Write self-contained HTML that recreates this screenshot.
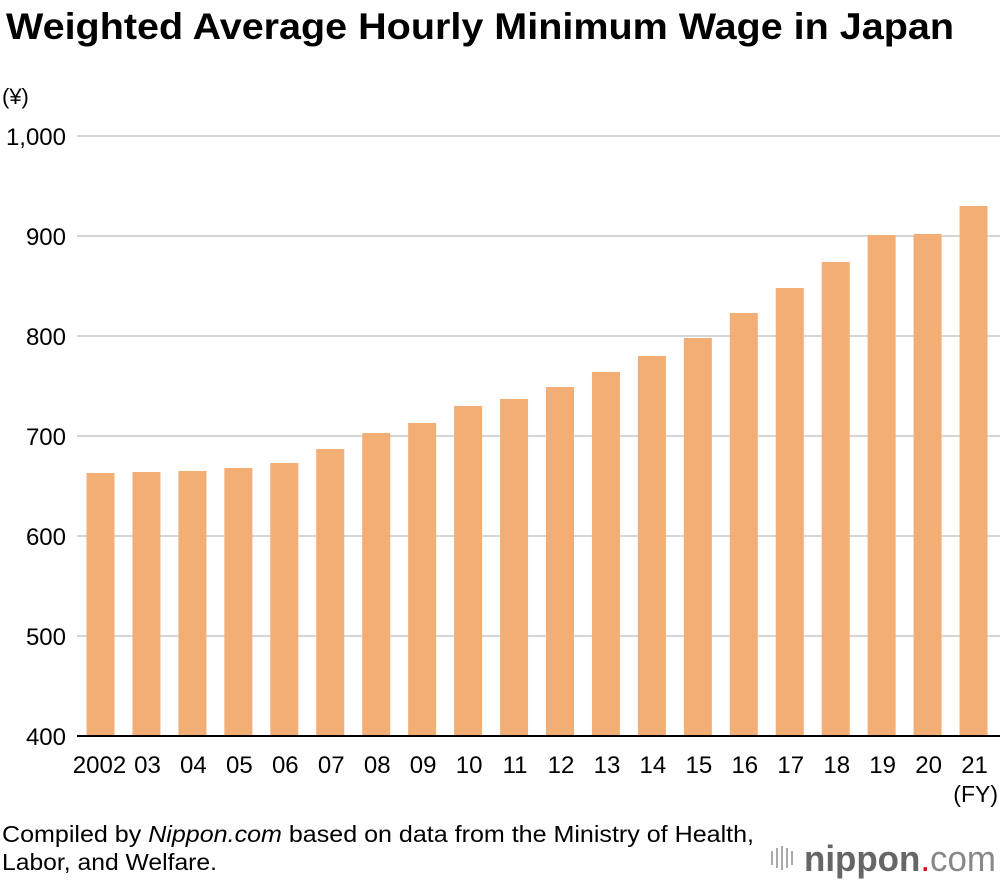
<!DOCTYPE html>
<html><head><meta charset="utf-8"><style>
body{margin:0;width:1000px;height:880px;background:#fff;overflow:hidden;font-family:"Liberation Sans",sans-serif;}
</style></head><body>
<svg width="1000" height="880" xmlns="http://www.w3.org/2000/svg" font-family="Liberation Sans, sans-serif">
<text x="6" y="39" font-size="37" font-weight="bold" fill="#000" textLength="948" lengthAdjust="spacingAndGlyphs">Weighted Average Hourly Minimum Wage in Japan</text>
<text x="2" y="104" font-size="22" fill="#000">(¥)</text>
<g id="grid"></g>
<g id="bars"></g>
<g id="xlabels"></g>
<line x1="77" x2="1000" y1="736" y2="736" stroke="#000" stroke-width="2"/>
<text x="998" y="802" font-size="23" text-anchor="end">(FY)</text>
<text x="2" y="842" font-size="23" textLength="752" lengthAdjust="spacingAndGlyphs">Compiled by <tspan font-style="italic">Nippon.com</tspan> based on data from the Ministry of Health,</text>
<text x="2" y="870" font-size="23" textLength="215" lengthAdjust="spacingAndGlyphs">Labor, and Welfare.</text>
<g>
<g fill="#aaa"><rect x="771" y="851" width="2" height="14"/><rect x="776" y="848" width="2" height="20"/><rect x="781" y="846" width="2" height="24"/><rect x="786" y="848" width="2" height="20"/><rect x="791" y="851" width="2" height="14"/></g>
<text x="804" y="871" font-size="36" fill="#666" textLength="192" lengthAdjust="spacingAndGlyphs"><tspan font-weight="bold">nippon</tspan><tspan fill="#e60012">.</tspan><tspan fill="#888">com</tspan></text>
</g>
</svg>
<script>
const years=["2002","03","04","05","06","07","08","09","10","11","12","13","14","15","16","17","18","19","20","21"];
const wages=[663,664,665,668,673,687,703,713,730,737,749,764,780,798,823,848,874,901,902,930];
const yTicks=[400,500,600,700,800,900,1000];
const yTickLabels=["400","500","600","700","800","900","1,000"];
const NS="http://www.w3.org/2000/svg";
function y(v){return 736-(v-400)*1.0;}
function xc(i){return 100.5+i*45.95;}
const grid=document.getElementById('grid'),bars=document.getElementById('bars'),xl=document.getElementById('xlabels');
yTicks.forEach((t,k)=>{
 if(t>400){const l=document.createElementNS(NS,'line');
 l.setAttribute('x1',77);l.setAttribute('x2',1000);l.setAttribute('y1',y(t));l.setAttribute('y2',y(t));
 l.setAttribute('stroke','#c8c8c8');l.setAttribute('stroke-width','1.5');
 
 
 grid.appendChild(l);}
 const tx=document.createElementNS(NS,'text');
 tx.setAttribute('x',66);tx.setAttribute('y',y(t)+9);tx.setAttribute('text-anchor','end');tx.setAttribute('font-size','24');
 tx.textContent=yTickLabels[k];
 
 
 grid.appendChild(tx);
});
wages.forEach((v,i)=>{
 const r=document.createElementNS(NS,'rect');
 r.setAttribute('x',xc(i)-14);r.setAttribute('width',28);r.setAttribute('y',y(v));r.setAttribute('height',736-y(v));
 r.setAttribute('fill','#f2ae74');
 
 
 bars.appendChild(r);
 const tx=document.createElementNS(NS,'text');
 tx.setAttribute('x',i==0?xc(i)-1:xc(i)+1);tx.setAttribute('y',773);tx.setAttribute('text-anchor','middle');tx.setAttribute('font-size','24');
 tx.textContent=years[i];
 
 
 xl.appendChild(tx);
});
</script>
</body></html>
